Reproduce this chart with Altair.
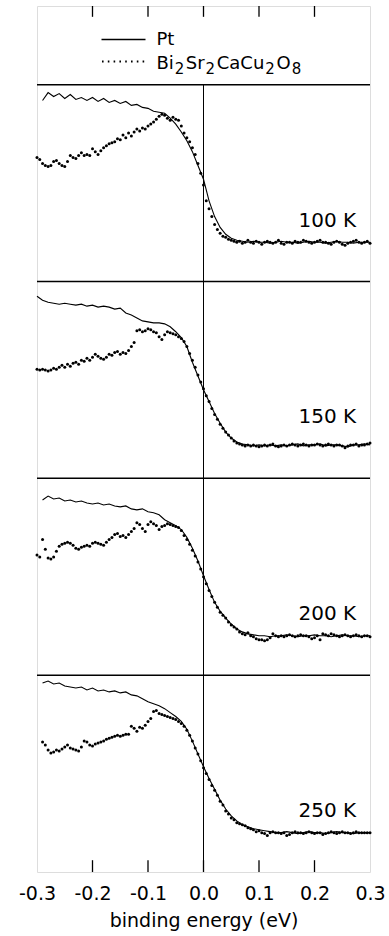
import altair as alt
import pandas as pd

# ---------------- data ----------------
temps = ["100 K", "150 K", "200 K", "250 K"]
offsets = [3, 2, 1, 0]          # vertical stacking of panels (top to bottom)

# Pt reference edge (solid line), 0.01 eV steps
pt_start = [-0.29, -0.30, -0.29, -0.29]
pt_100 = [0.92, 0.96, 0.94, 0.955, 0.93, 0.95, 0.925, 0.935, 0.92, 0.935,
          0.915, 0.93, 0.91, 0.92, 0.905, 0.915, 0.895, 0.90, 0.885, 0.88,
          0.865, 0.86, 0.855, 0.83, 0.80, 0.76, 0.715, 0.66, 0.59, 0.52,
          0.41, 0.33, 0.275, 0.24, 0.22, 0.21, 0.205, 0.20, 0.205, 0.20,
          0.20, 0.195, 0.20, 0.205, 0.20, 0.20, 0.195, 0.20, 0.205, 0.20,
          0.20, 0.195, 0.20, 0.205, 0.20, 0.20, 0.195, 0.20, 0.20, 0.20]
pt_150 = [0.925, 0.905, 0.895, 0.89, 0.885, 0.89, 0.885, 0.88, 0.885, 0.875, 0.88,
          0.87, 0.875, 0.87, 0.86, 0.865, 0.84, 0.83, 0.815, 0.80, 0.795,
          0.79, 0.79, 0.785, 0.77, 0.745, 0.715, 0.67, 0.59, 0.52, 0.45,
          0.39, 0.33, 0.28, 0.235, 0.205, 0.185, 0.175, 0.17, 0.165, 0.17,
          0.165, 0.17, 0.165, 0.17, 0.165, 0.17, 0.175, 0.165, 0.17, 0.17,
          0.175, 0.165, 0.17, 0.17, 0.165, 0.16, 0.17, 0.17, 0.175, 0.17]
pt_200 = [0.89, 0.91, 0.895, 0.90, 0.885, 0.89, 0.88, 0.885, 0.875, 0.87,
          0.875, 0.865, 0.87, 0.86, 0.855, 0.86, 0.845, 0.84, 0.845, 0.83,
          0.825, 0.815, 0.79, 0.775, 0.76, 0.74, 0.70, 0.645, 0.58, 0.505,
          0.435, 0.37, 0.325, 0.29, 0.26, 0.235, 0.22, 0.21, 0.205, 0.20,
          0.20, 0.195, 0.20, 0.20, 0.205, 0.20, 0.195, 0.20, 0.20, 0.205,
          0.20, 0.20, 0.195, 0.20, 0.205, 0.20, 0.20, 0.195, 0.20, 0.20]
pt_250 = [0.96, 0.97, 0.955, 0.96, 0.945, 0.94, 0.935, 0.94, 0.925, 0.935,
          0.92, 0.925, 0.915, 0.92, 0.91, 0.915, 0.90, 0.895, 0.88, 0.865,
          0.855, 0.845, 0.83, 0.81, 0.79, 0.765, 0.725, 0.665, 0.60, 0.535,
          0.475, 0.42, 0.365, 0.32, 0.285, 0.26, 0.24, 0.23, 0.22, 0.215,
          0.21, 0.205, 0.20, 0.20, 0.205, 0.20, 0.195, 0.20, 0.205, 0.20,
          0.20, 0.195, 0.20, 0.205, 0.20, 0.20, 0.195, 0.20, 0.20, 0.20]

# Bi2Sr2CaCu2O8 (dots), 0.005 eV steps
bi_start = [-0.30, -0.30, -0.30, -0.29]
bi_100 = [0.63, 0.62, 0.60, 0.59, 0.585, 0.59, 0.61, 0.615, 0.60, 0.59,
          0.585, 0.61, 0.64, 0.63, 0.625, 0.64, 0.655, 0.64, 0.645, 0.64,
          0.675, 0.66, 0.645, 0.665, 0.68, 0.69, 0.70, 0.705, 0.71, 0.725,
          0.72, 0.745, 0.73, 0.755, 0.74, 0.76, 0.775, 0.765, 0.78, 0.775,
          0.79, 0.80, 0.81, 0.825, 0.84, 0.85, 0.845, 0.83, 0.82, 0.835,
          0.825, 0.82, 0.79, 0.755, 0.73, 0.71, 0.68, 0.645, 0.60, 0.55,
          0.49, 0.41, 0.37, 0.33, 0.29, 0.265, 0.245, 0.23, 0.225, 0.215,
          0.21, 0.205, 0.20, 0.205, 0.195, 0.20, 0.21, 0.20, 0.195, 0.205,
          0.20, 0.19, 0.20, 0.205, 0.20, 0.195, 0.20, 0.21, 0.195, 0.19,
          0.20, 0.20, 0.195, 0.205, 0.20, 0.20, 0.21, 0.205, 0.20, 0.195,
          0.20, 0.205, 0.21, 0.20, 0.20, 0.195, 0.19, 0.20, 0.205, 0.20,
          0.19, 0.185, 0.195, 0.20, 0.205, 0.21, 0.20, 0.195, 0.20, 0.205,
          0.195]
bi_150 = [0.555, 0.55, 0.555, 0.55, 0.545, 0.55, 0.56, 0.555, 0.565, 0.575,
          0.565, 0.58, 0.57, 0.585, 0.59, 0.58, 0.60, 0.595, 0.61, 0.60,
          0.615, 0.63, 0.62, 0.61, 0.605, 0.615, 0.63, 0.625, 0.64, 0.645,
          0.63, 0.64, 0.635, 0.65, 0.67, 0.69, 0.75, 0.755, 0.745, 0.75,
          0.76, 0.755, 0.745, 0.74, 0.72, 0.705, 0.73, 0.745, 0.74, 0.735,
          0.73, 0.72, 0.71, 0.695, 0.67, 0.635, 0.60, 0.565, 0.525, 0.49,
          0.455, 0.42, 0.39, 0.355, 0.325, 0.30, 0.275, 0.255, 0.235, 0.22,
          0.205, 0.19, 0.18, 0.175, 0.17, 0.165, 0.17, 0.165, 0.17, 0.165,
          0.16, 0.165, 0.17, 0.165, 0.17, 0.175, 0.165, 0.16, 0.165, 0.17,
          0.165, 0.17, 0.175, 0.17, 0.165, 0.17, 0.175, 0.17, 0.165, 0.17,
          0.17, 0.175, 0.17, 0.165, 0.17, 0.175, 0.17, 0.165, 0.17, 0.17,
          0.165, 0.155, 0.165, 0.17, 0.17, 0.175, 0.165, 0.17, 0.17, 0.175,
          0.18]
bi_200 = [0.61, 0.60, 0.69, 0.64, 0.595, 0.59, 0.60, 0.63, 0.655, 0.665,
          0.67, 0.675, 0.67, 0.66, 0.645, 0.64, 0.65, 0.655, 0.66, 0.655,
          0.67, 0.675, 0.67, 0.665, 0.66, 0.675, 0.69, 0.70, 0.715, 0.72,
          0.705, 0.71, 0.70, 0.715, 0.73, 0.745, 0.775, 0.765, 0.745, 0.73,
          0.765, 0.78, 0.77, 0.76, 0.74, 0.755, 0.76, 0.77, 0.765, 0.76,
          0.755, 0.75, 0.735, 0.71, 0.69, 0.665, 0.635, 0.605, 0.575, 0.54,
          0.50, 0.465, 0.43, 0.40, 0.37, 0.345, 0.32, 0.305, 0.29, 0.27,
          0.255, 0.245, 0.235, 0.22, 0.21, 0.205, 0.215, 0.20, 0.195, 0.185,
          0.18, 0.18, 0.175, 0.18, 0.19, 0.21, 0.20, 0.195, 0.20, 0.195,
          0.20, 0.205, 0.20, 0.195, 0.20, 0.205, 0.20, 0.20, 0.195, 0.185,
          0.19, 0.20, 0.18, 0.21, 0.205, 0.20, 0.21, 0.205, 0.20, 0.195,
          0.20, 0.205, 0.20, 0.195, 0.20, 0.205, 0.20, 0.195, 0.20, 0.20,
          0.195]
bi_250 = [0.66, 0.645, 0.62, 0.605, 0.61, 0.62, 0.615, 0.625, 0.635, 0.645,
          0.63, 0.625, 0.62, 0.615, 0.635, 0.665, 0.66, 0.645, 0.64, 0.65,
          0.655, 0.66, 0.665, 0.675, 0.68, 0.685, 0.69, 0.695, 0.69, 0.695,
          0.70, 0.70, 0.74, 0.73, 0.715, 0.735, 0.73, 0.745, 0.765, 0.78,
          0.815, 0.82, 0.805, 0.80, 0.795, 0.79, 0.785, 0.78, 0.775, 0.765,
          0.755, 0.74, 0.72, 0.695, 0.665, 0.63, 0.60, 0.565, 0.53, 0.50,
          0.47, 0.44, 0.415, 0.39, 0.36, 0.34, 0.31, 0.295, 0.275, 0.265,
          0.25, 0.245, 0.24, 0.235, 0.225, 0.22, 0.215, 0.205, 0.21, 0.20,
          0.195, 0.185, 0.20, 0.205, 0.20, 0.20, 0.195, 0.20, 0.185, 0.19,
          0.20, 0.205, 0.20, 0.20, 0.195, 0.20, 0.205, 0.20, 0.195, 0.20,
          0.20, 0.19, 0.195, 0.20, 0.205, 0.20, 0.195, 0.20, 0.205, 0.20,
          0.20, 0.195, 0.20, 0.205, 0.20, 0.20, 0.20, 0.20, 0.20]

x_tick_labels = [-0.3, -0.2, -0.1, 0.0, 0.1, 0.2, 0.3]
inner_ticks = [-0.2, -0.1, 0.0, 0.1, 0.2]
# legend entry for the cuprate, split into normal text and subscripts
formula_parts = ["Bi", "2", "Sr", "2", "CaCu", "2", "O", "8"]
formula_is_sub = [False, True, False, True, False, True, False, True]

# ---------------- build tables ----------------
def build(series, starts, step):
    rows = []
    for temp, off, start, vals in zip(temps, offsets, starts, series):
        for i, v in enumerate(vals):
            x = round(start + step * i, 4)
            if x <= 0.3 + 1e-9:
                rows.append({"x": x, "y": v + off, "panel": temp})
    return pd.DataFrame(rows)

df_pt = build([pt_100, pt_150, pt_200, pt_250], pt_start, 0.01)
df_bi = build([bi_100, bi_150, bi_200, bi_250], bi_start, 0.005)

FONT = "DejaVu Sans"
xs = alt.Scale(domain=[-0.3, 0.3], nice=False, zero=False)
ys = alt.Scale(domain=[0, 4.4], nice=False, zero=False)
x_axis = alt.Axis(values=x_tick_labels,
                  labelExpr="datum.value < 0 ? '-' + format(-datum.value, '.1f') : format(datum.value, '.1f')",
                  labelFont=FONT, labelFontSize=19, labelColor="black", labelPadding=12,
                  labelFlush=False, labelOverlap=False, ticks=False, domain=False, grid=False,
                  title="binding energy (eV)", titleFont=FONT, titleFontSize=19,
                  titleFontWeight="normal", titleColor="black", titlePadding=8)

def X(field="x"):
    return alt.X(f"{field}:Q", scale=xs, axis=x_axis)

def Y(field="y"):
    return alt.Y(f"{field}:Q", scale=ys, axis=None)

# panel separators
seps = alt.Chart(pd.DataFrame({"y": [1, 2, 3, 4]})).mark_rule(
    color="black", strokeWidth=1.5).encode(y=Y())

# E_F line
vline = alt.Chart(pd.DataFrame({"x": [0.0], "y": [0.0], "y2": [4.0]})).mark_rule(
    color="black", strokeWidth=1).encode(x=X(), y=Y(), y2="y2:Q")

# inward ticks on top and bottom frames
tb = pd.DataFrame({"x": inner_ticks, "y": [0.0] * len(inner_ticks), "y2": [0.06] * len(inner_ticks)})
tt = pd.DataFrame({"x": inner_ticks, "y": [4.4] * len(inner_ticks), "y2": [4.345] * len(inner_ticks)})
ticks_b = alt.Chart(tb).mark_rule(color="black", strokeWidth=1.3).encode(x=X(), y=Y(), y2="y2:Q")
ticks_t = alt.Chart(tt).mark_rule(color="black", strokeWidth=1.3).encode(x=X(), y=Y(), y2="y2:Q")

pt_lines = alt.Chart(df_pt).mark_line(color="black", strokeWidth=1.1).encode(
    x=X(), y=Y(), detail="panel:N")
bi_dots = alt.Chart(df_bi).mark_circle(color="black", size=9, opacity=1).encode(
    x=X(), y=Y())

df_lab = pd.DataFrame({"label": temps, "x": [0.275] * 4, "y": [o + 0.31 for o in offsets]})
labels = alt.Chart(df_lab).mark_text(
    align="right", baseline="middle", font=FONT, fontSize=20, color="black").encode(
    x=X(), y=Y(), text="label:N")

# ---------------- legend (pixel positions inside the plot area) ----------------
one = pd.DataFrame({"k": [0]})
leg_solid = alt.Chart(one).mark_rule(color="black", strokeWidth=1.3).encode(
    x=alt.value(64.5), x2=alt.value(108.5), y=alt.value(33.5))
leg_dot = alt.Chart(one).mark_rule(color="black", strokeWidth=1.8, strokeDash=[1.6, 4.2]).encode(
    x=alt.value(65), x2=alt.value(109), y=alt.value(55.5))
leg_pt = alt.Chart(pd.DataFrame({"t": ["Pt"]})).mark_text(
    align="left", baseline="alphabetic", font=FONT, fontSize=18, color="black").encode(
    x=alt.value(119.5), y=alt.value(39), text="t:N")

# advance widths of DejaVu Sans (em) used to lay the formula out left to right
adv = {"B": 0.686, "i": 0.278, "S": 0.635, "r": 0.411, "C": 0.698, "a": 0.613,
       "u": 0.634, "O": 0.787, "2": 0.636, "8": 0.636}
main_size, sub_size = 18, 15
gaps = [1.0, 1.4, 1.0, 1.6, 1.0, 1.6, 1.0, 0]
formula_layers = []
cursor = 119.5
for part, is_sub, gap in zip(formula_parts, formula_is_sub, gaps):
    size = sub_size if is_sub else main_size
    formula_layers.append(
        alt.Chart(pd.DataFrame({"t": [part]})).mark_text(
            align="left", baseline="alphabetic", font=FONT, fontSize=size, color="black").encode(
            x=alt.value(cursor), y=alt.value(67.5 if is_sub else 62.5), text="t:N"))
    cursor += sum(adv[c] for c in part) * size + gap

chart = alt.layer(seps, vline, ticks_b, ticks_t, pt_lines, bi_dots, labels,
                  leg_solid, leg_dot, leg_pt, *formula_layers).properties(
    width=333, height=866,
    autosize=alt.AutoSizeParams(type="none"),
    padding={"left": 37, "top": 6, "right": 19, "bottom": 64},
).configure_view(stroke="black", strokeWidth=1.6).configure(background="white")

chart.save("out.html", embed_options={"renderer": "svg", "actions": False})
